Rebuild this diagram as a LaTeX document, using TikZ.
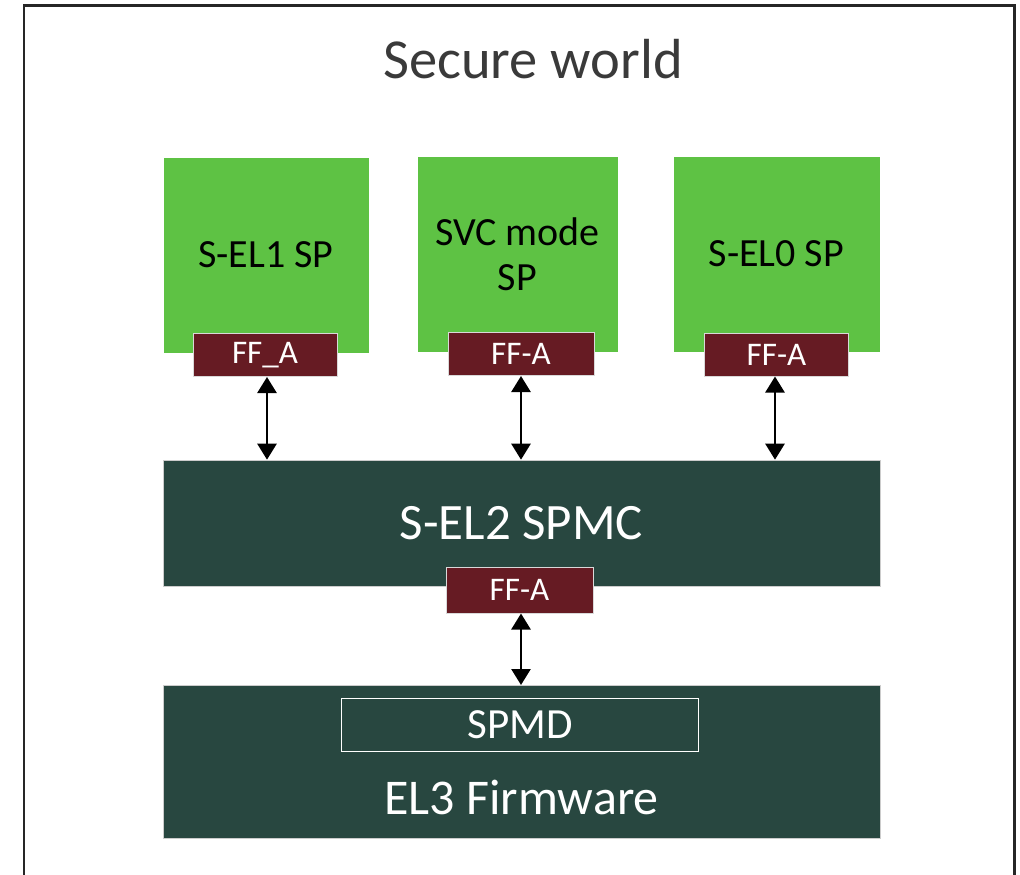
\documentclass[tikz,border=0pt]{standalone}
\usepackage{fontspec}
\setmainfont{Carlito}
\usetikzlibrary{arrows.meta}
\definecolor{spgreen}{HTML}{5EC244}
\definecolor{darkteal}{HTML}{284740}
\definecolor{ffred}{HTML}{661B23}
\definecolor{titlegrey}{HTML}{3A3A3A}
\tikzset{
  spbox/.style={fill=spgreen, draw=white, line width=0.8pt, minimum width=206pt, minimum height=196pt, inner sep=0pt, text=black, font=\fontsize{40}{47}\selectfont, align=center},
  ffbox/.style={fill=ffred, draw=white!85!black, line width=1pt, minimum width=144pt, minimum height=43pt, inner sep=0pt, text=white, font=\fontsize{33}{38}\selectfont},
  layer/.style={fill=darkteal, draw=white!80!black, line width=0.6pt, minimum width=717pt, inner sep=0pt, text=white, font=\fontsize{51}{58}\selectfont},
  link/.style={line width=2.6pt, {Triangle[width=19pt,length=16pt]}-{Triangle[width=19pt,length=16pt]}}
}
\begin{document}
\begin{tikzpicture}[x=1pt,y=-1pt]
  \useasboundingbox (0,0) rectangle (1020,875);
  % outer frame, open at the bottom
  \draw[line width=2.6pt, draw=black!85] (24,880) -- (24,5.5) -- (1014.5,5.5) -- (1014.5,880);
  \node[text=titlegrey, font=\fontsize{56.5}{64}\selectfont] (title) at (533,59) {Secure world};

  % secure partitions
  \node[spbox] (sp1) at (266,255) {S-EL1 SP};
  \node[spbox, minimum width=201pt] (sp2) at (517.5,254) {SVC mode\\[-2pt]SP};
  \node[spbox, minimum width=207pt] (sp3) at (776.5,254) {S-EL0 SP};

  % FF-A endpoints
  \node[ffbox] (ff1) at (265,355) {FF\_A};
  \node[ffbox, minimum width=146pt] (ff2) at (521,354) {FF-A};
  \node[ffbox] (ff3) at (776.5,354.5) {FF-A};

  % SPMC layer
  \node[layer, minimum height=126pt] (spmc) at (521.5,523) {S-EL2 SPMC};
  \node[ffbox, minimum width=147pt, minimum height=46pt] (ff4) at (519.5,590) {FF-A};

  % EL3 layer
  \node[layer, minimum height=153pt, anchor=north] (el3) at (521.5,685) {};
  \node[text=white, font=\fontsize{50}{58}\selectfont] (el3t) at (521.5,797) {EL3 Firmware};
  \node[draw=white, line width=1.8pt, minimum width=357pt, minimum height=53pt, inner sep=0pt, text=white, font=\fontsize{43}{50}\selectfont] (spmd) at (520,725) {SPMD};

  % links
  \draw[link] (ff1.south -| 267,0) -- (spmc.north -| 267,0);
  \draw[link] (ff2.south) -- (spmc.north -| ff2.south);
  \draw[link] (ff3.south -| 775,0) -- (spmc.north -| 775,0);
  \draw[link] (ff4.south -| 521,0) -- (el3.north -| 521,0);
\end{tikzpicture}
\end{document}
